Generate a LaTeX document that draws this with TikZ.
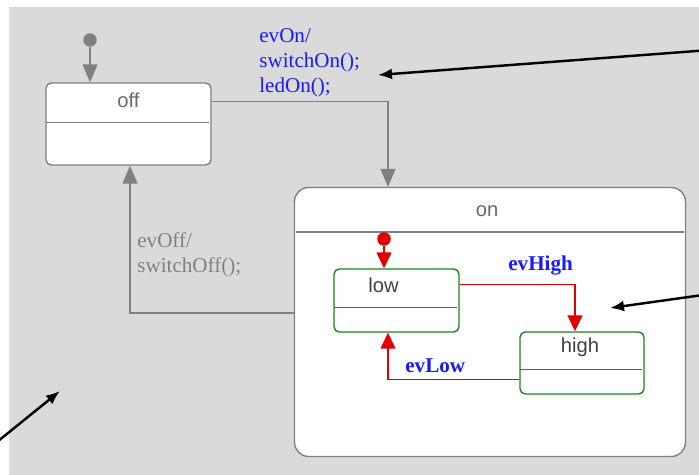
\documentclass[tikz,border=0pt]{standalone}
\usepackage{fontspec}
\setmainfont{Liberation Serif}
\setsansfont{Liberation Sans}
\usetikzlibrary{arrows.meta, positioning, calc}
\definecolor{SCBack}{RGB}{218,218,218}
\definecolor{SCGray}{RGB}{128,128,128}
\definecolor{SCName}{RGB}{105,105,110}
\definecolor{SCRed}{RGB}{225,0,0}
\definecolor{SCGreen}{RGB}{25,135,25}
\definecolor{SCBlue}{RGB}{25,25,255}

\begin{document}
\begin{tikzpicture}[x=0.02cm, y=-0.02cm,
    state/.style={rectangle, rounded corners=3pt, draw=SCGray, fill=white,
                  line width=0.8pt, inner sep=0pt},
    substate/.style={state, draw=SCGreen},
    sname/.style={font=\sffamily\fontsize{11.5}{13}\selectfont, text=SCName},
    evt/.style={font=\fontsize{12}{14.5}\selectfont, text=SCBlue, align=left,
                inner sep=0pt},
    evtb/.style={evt, font=\bfseries\fontsize{12}{14.5}\selectfont},
    garr/.style={draw=SCGray, line width=0.8pt,
                 -{Triangle[length=0.36cm, width=0.3cm]}},
    rarr/.style={draw=SCRed, line width=0.8pt,
                 -{Triangle[length=0.32cm, width=0.3cm]}},
    note/.style={draw=black, line width=1.4pt,
                 -{Latex[length=0.28cm, width=0.22cm]}},
    init/.style={circle, fill=SCGray, inner sep=0pt, minimum size=0.27cm}
  ]
  \useasboundingbox (0,0) rectangle (699,475);
  \fill[SCBack] (9,7) rectangle (699,475);

  % top level states
  \node[state, minimum width=3.3cm, minimum height=1.64cm] (off) at (128.5,124) {};
  \draw[SCGray, line width=0.8pt] ($(off.north west)+(1,40)$) -- ($(off.north east)+(-3,40)$);
  \node[sname] (offname) at ($(off.north)+(0,18)$) {off};

  \node[state, rounded corners=8pt, minimum width=7.82cm, minimum height=5.38cm]
        (on) at (490,322) {};
  \draw[SCGray, line width=0.8pt] ($(on.north west)+(2,45)$) -- ($(on.north east)+(-2,45)$);
  \node[sname] (onname) at ($(on.north)+(-3,24)$) {on};

  \node[init] (offinit) at (90,40) {};
  \draw[garr] (offinit) -- (offinit |- off.north);

  % off <-> on
  \draw[garr] ($(off.north east)+(0,19)$) -| (on.north -| 388,0);
  \node[evt, anchor=base west] (onlbl) at (259,93) {evOn/\\switchOn();\\ledOn();};

  \draw[garr] (on.west |- 0,313) -| (off.south -| 130,0);
  \node[evt, text=SCGray, anchor=base west] (offlbl) at (137,273) {evOff/\\switchOff();};

  % substates of on
  \node[substate, minimum width=2.5cm, minimum height=1.26cm] (low) at (396.5,300.5) {};
  \draw[SCGreen, line width=0.8pt] ($(low.north west)+(1,39)$) -- ($(low.north east)+(-3,39)$);
  \node[sname, text=black!75] (lowname) at ($(low.north)+(-13,17)$) {low};

  \node[substate, minimum width=2.48cm, minimum height=1.24cm] (high) at (582,363) {};
  \draw[SCGreen, line width=0.8pt] ($(high.north west)+(1,38)$) -- ($(high.north east)+(-3,38)$);
  \node[sname, text=black!75] (highname) at ($(high.north)+(-2,16)$) {high};

  \node[init, fill=SCRed] (oninit) at (384,239) {};
  \draw[rarr] (oninit) -- (oninit |- low.north);

  \draw[rarr] ($(low.north east)+(0,16)$) -| (high.north -| 575,0);
  \node[evtb, anchor=base west] (highlbl) at (508,271) {evHigh};

  \draw[rarr] ($(high.north west)+(0,48)$) -| (low.south -| 388,0);
  \node[evtb, anchor=base west] (lowlbl) at (405,373) {evLow};

  % pointers
  \coordinate (p1) at (710,50);  \coordinate (t1) at (378,75);
  \coordinate (p2) at (710,294); \coordinate (t2) at (610,308);
  \coordinate (p3) at (-8,446);  \coordinate (t3) at (60,391);
  \draw[note] (p1) -- (t1);
  \draw[note] (p2) -- (t2);
  \draw[note] (p3) -- (t3);
\end{tikzpicture}
\end{document}
